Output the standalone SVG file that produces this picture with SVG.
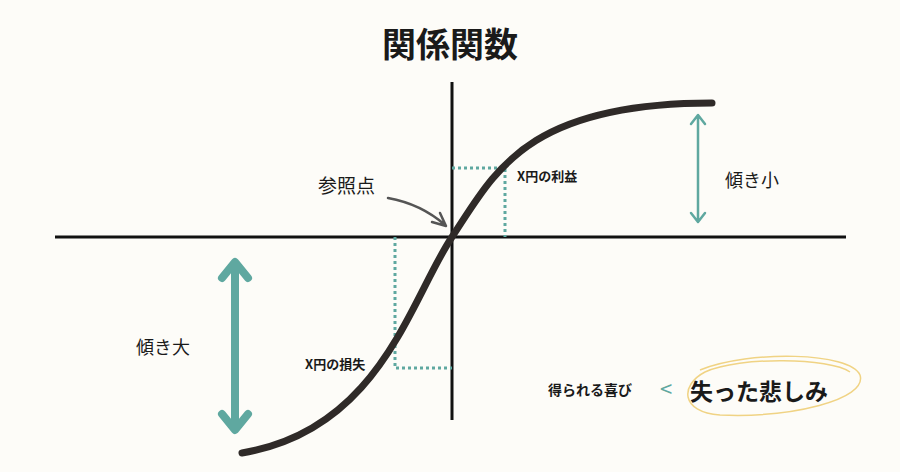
<svg xmlns="http://www.w3.org/2000/svg" width="900" height="472" viewBox="0 0 900 472">
<style>
text{font-family:"Noto Sans CJK JP","Noto Sans",sans-serif;fill:#1a1a1a}
.ax{stroke:#111;stroke-width:3;fill:none}
.dot{stroke:#5fa8a0;stroke-width:3;stroke-dasharray:3 3;fill:none}
.b{font-weight:bold}
</style>
<rect width="900" height="472" fill="#fdfcf8"/>
<text x="450" y="57" text-anchor="middle" font-size="34" class="b">関係関数</text>
<g id="connectors">
<line class="ax" x1="55" y1="237" x2="846" y2="237"/>
<line class="ax" x1="452" y1="82" x2="452" y2="420"/>
<path class="dot" d="M452,168H505V237M395,237V368H452"/>
<path d="M242,453 C380,430 410,300 452,237 C494,174 524,103 712,103" fill="none" stroke="#2f2a28" stroke-width="7" stroke-linecap="round"/>
<path d="M698,116V221M691,124L698,115L705,124M691,213L698,222L705,213" fill="none" stroke="#5fa8a0" stroke-width="2.5" stroke-linecap="round" stroke-linejoin="round"/>
<path d="M235,264V428M222,278L235,262L248,278M222,414L235,430L248,414" fill="none" stroke="#5fa8a0" stroke-width="8" stroke-linecap="round" stroke-linejoin="round"/>
<path d="M388,198 C410,202 428,210 445,225M432,222L446,226L440,213" fill="none" stroke="#555" stroke-width="2.5" stroke-linecap="round" stroke-linejoin="round"/>
</g>
<g id="labels">
<text x="318" y="193" font-size="19">参照点</text>
<text x="517" y="181" font-size="13" class="b">X円の利益</text>
<text x="725" y="187" font-size="18">傾き小</text>
<text x="136" y="354" font-size="18">傾き大</text>
<text x="305" y="369" font-size="13" class="b">X円の損失</text>
<text x="548" y="395" font-size="14" class="b">得られる喜び</text>
<text x="660" y="397" font-size="22" fill="#5fa8a0" style="fill:#5fa8a0">&lt;</text>
<text x="690" y="400" font-size="23" class="b">失った悲しみ</text>
<path d="M700,370 C750,350 850,352 860,375 C868,400 790,418 720,415 C680,412 680,385 705,372 C740,356 830,358 850,372" fill="none" stroke="#f0d384" stroke-width="1.5"/>
</g>
</svg>
